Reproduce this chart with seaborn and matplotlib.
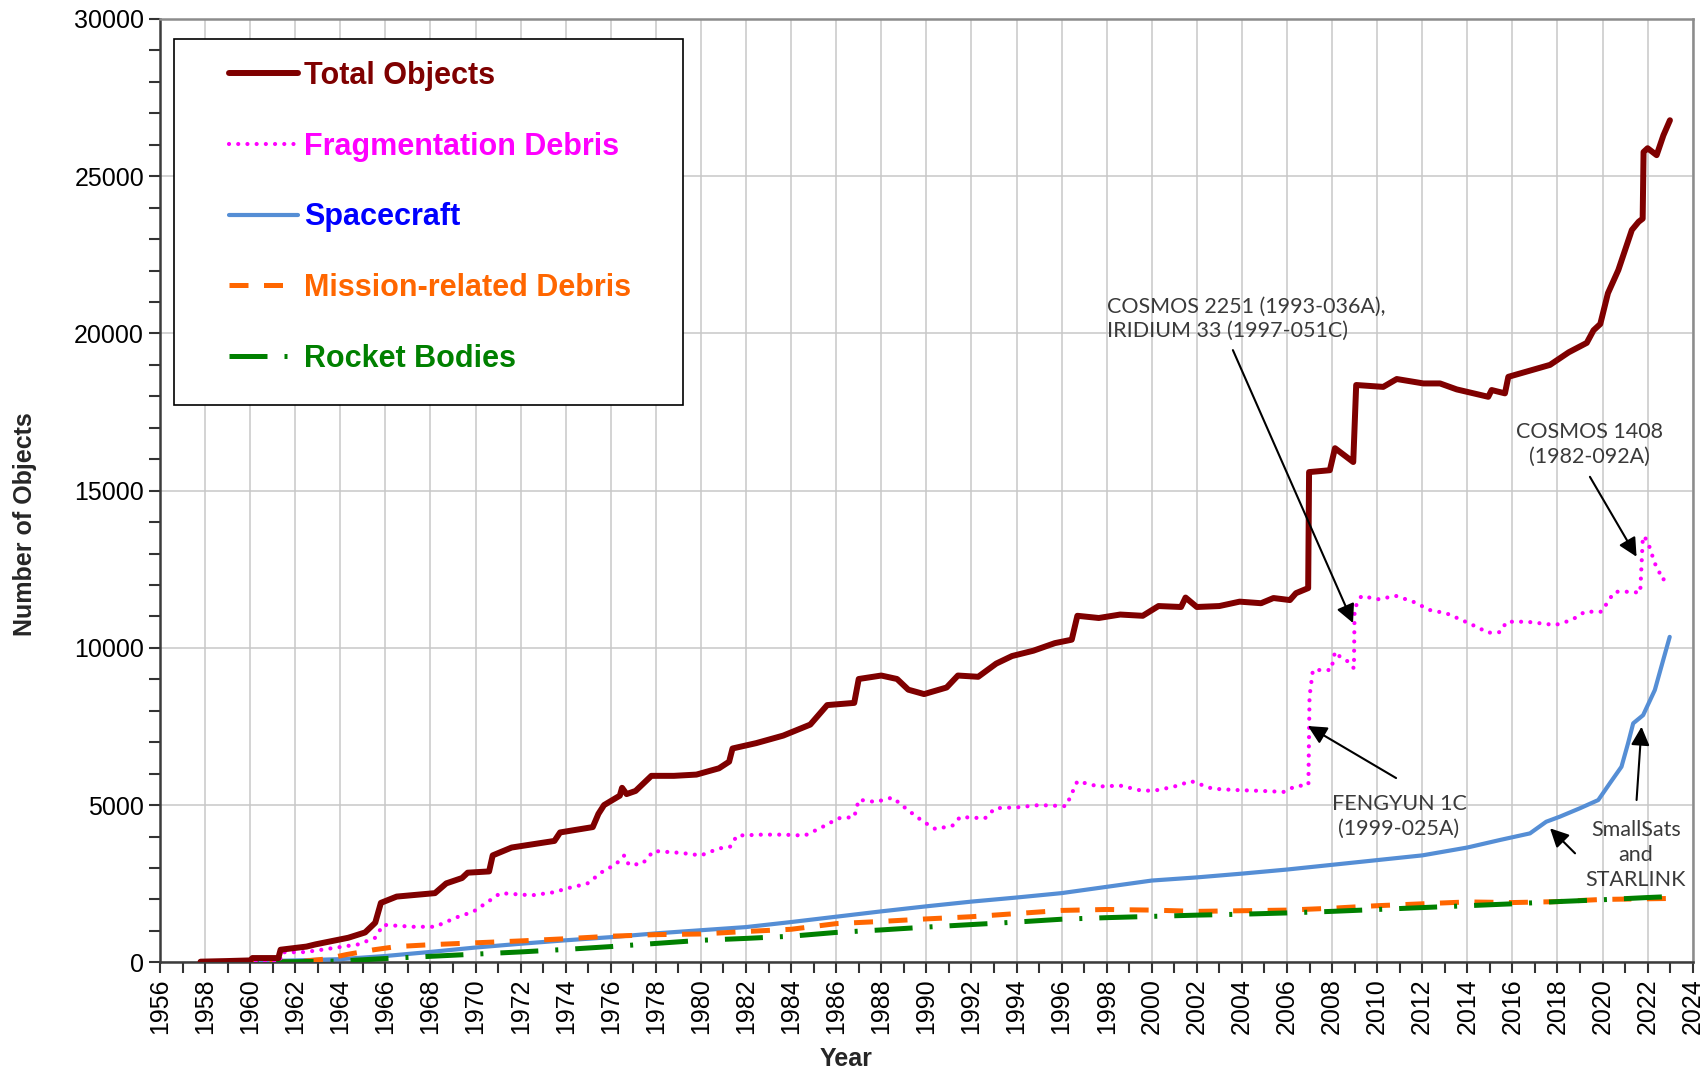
import matplotlib
matplotlib.use('Agg')
import matplotlib.pyplot as plt
import matplotlib.patches as mpatches
from matplotlib.ticker import MultipleLocator
import seaborn as sns

# ─────────────────────────────────────────────────────────────────────────────
# DATA
# ─────────────────────────────────────────────────────────────────────────────
total_years = [1957.8, 1959.0, 1960.0, 1960.1, 1961.25, 1961.35, 1962.5, 1962.9, 1964.35, 1965.1,
               1965.55, 1965.8, 1966.5, 1968.2, 1968.7, 1969.4, 1969.65, 1970.6, 1970.76, 1971.6,
               1972.5, 1973.5, 1973.75, 1975.2, 1975.45, 1975.7, 1976.4, 1976.5, 1976.7, 1977.1,
               1977.8, 1978.8, 1979.8, 1980.8, 1981.25, 1981.4, 1982.45, 1983.65, 1984.85, 1985.6,
               1986.8, 1987.0, 1988.0, 1988.7, 1989.2, 1989.9, 1990.9, 1991.4, 1992.3, 1993.1,
               1993.8, 1994.75, 1995.7, 1996.45, 1996.7, 1997.65, 1998.6, 1999.6, 2000.3, 2001.3,
               2001.5, 2002.0, 2003.0, 2003.9, 2004.85, 2005.4, 2006.13, 2006.4, 2006.94, 2006.98,
               2007.9, 2008.13, 2008.94, 2009.07, 2010.27, 2010.87, 2012.05, 2012.79, 2013.53, 2014.93,
               2015.08, 2015.67, 2015.82, 2016.6, 2017.67, 2018.5, 2019.3, 2019.6, 2019.9, 2020.24,
               2020.7, 2021.3, 2021.6, 2021.78, 2021.82, 2022.0, 2022.4, 2022.7, 2022.99]
total_vals = [20, 40, 60, 135, 135, 400, 500, 570, 780, 950,
              1260, 1890, 2090, 2200, 2510, 2680, 2850, 2890, 3400, 3650,
              3750, 3860, 4130, 4300, 4720, 5000, 5300, 5550, 5350, 5450,
              5930, 5930, 5970, 6170, 6380, 6800, 6970, 7210, 7560, 8180,
              8250, 9010, 9120, 9010, 8670, 8530, 8740, 9120, 9080, 9500,
              9740, 9910, 10150, 10260, 11020, 10950, 11060, 11020, 11330, 11300,
              11600, 11300, 11330, 11470, 11420, 11585, 11520, 11740, 11900, 15590,
              15650, 16350, 15910, 18360, 18300, 18550, 18410, 18410, 18220, 17985,
              18200, 18094, 18620, 18780, 19000, 19400, 19700, 20100, 20300, 21280,
              22015, 23290, 23550, 23650, 25770, 25890, 25670, 26300, 26780]

frag_years = [1957.8, 1961.3, 1961.4, 1962.3, 1962.9, 1964.8, 1965.55, 1965.9, 1967.25, 1968.2,
              1969.2, 1969.9, 1970.6, 1971.1, 1972.5, 1973.5, 1974.0, 1974.95, 1975.7, 1976.2,
              1976.6, 1976.8, 1977.4, 1977.9, 1979.1, 1980.0, 1980.8, 1981.3, 1981.6, 1982.7,
              1983.65, 1984.6, 1985.3, 1986.1, 1986.8, 1987.0, 1987.75, 1988.5, 1989.2, 1989.85,
              1990.4, 1991.15, 1991.5, 1992.6, 1993.05, 1994.05, 1995.0, 1996.2, 1996.7, 1997.65,
              1998.6, 1999.6, 2000.3, 2001.0, 2001.75, 2002.7, 2003.7, 2004.9, 2005.85, 2006.35,
              2006.95, 2007.0, 2007.15, 2007.96, 2008.13, 2008.35, 2008.72, 2008.97, 2009.0, 2009.3,
              2010.1, 2010.8, 2011.6, 2012.34, 2013.08, 2013.82, 2014.56, 2014.88, 2015.45, 2015.75,
              2016.64, 2017.9, 2018.63, 2019.22, 2019.96, 2020.33, 2020.55, 2021.22, 2021.67, 2021.79,
              2021.85, 2022.03, 2022.32, 2022.69, 2022.9]
frag_vals = [0, 0, 320, 320, 370, 570, 780, 1190, 1130, 1130,
             1440, 1610, 1950, 2200, 2130, 2230, 2340, 2500, 2920, 3100,
             3400, 3100, 3130, 3540, 3480, 3400, 3620, 3680, 4030, 4060,
             4060, 4030, 4270, 4580, 4620, 5170, 5100, 5240, 4830, 4480,
             4240, 4340, 4620, 4580, 4900, 4930, 5000, 4965, 5760, 5590,
             5620, 5450, 5480, 5590, 5760, 5520, 5480, 5450, 5420, 5590,
             5650, 8450, 9295, 9295, 9877, 9720, 9560, 9349, 11257, 11648,
             11542, 11660, 11467, 11203, 11097, 10864, 10620, 10482, 10500, 10831,
             10831, 10726, 10885, 11150, 11150, 11575, 11785, 11785, 11753, 13534,
             13550, 13324, 12688, 12157, 12423]

sc_years = [1957.8, 1960, 1962, 1964, 1966, 1968, 1970, 1972, 1974, 1976,
            1978, 1980, 1982, 1984, 1986, 1988, 1990, 1992, 1994, 1996,
            1998, 2000, 2002, 2004, 2006, 2008, 2010, 2012, 2014, 2015.45,
            2016.78, 2017.5, 2018.1, 2019.0, 2019.81, 2020.33, 2020.84, 2021.13, 2021.36, 2021.8,
            2022.32, 2022.69, 2022.98]
sc_vals = [0, 30, 60, 100, 200, 330, 470, 590, 700, 800,
           920, 1020, 1120, 1280, 1450, 1620, 1780, 1930, 2060, 2200,
           2400, 2600, 2700, 2820, 2950, 3100, 3250, 3400, 3650, 3890,
           4100, 4470, 4630, 4900, 5160, 5700, 6220, 6960, 7600, 7860,
           8660, 9610, 10350]

mission_years = [1957.8, 1962.0, 1963.3, 1964.3, 1965.5, 1966.5, 1968, 1970, 1972, 1974,
                 1976, 1978, 1980, 1982, 1984, 1986, 1988, 1990, 1992, 1994,
                 1996, 1998, 2000, 2002, 2004, 2006, 2008, 2010, 2012, 2014,
                 2016, 2018, 2020, 2022, 2023]
mission_vals = [0, 10, 100, 250, 400, 500, 560, 620, 680, 750,
                830, 880, 900, 980, 1050, 1230, 1300, 1380, 1450, 1550,
                1650, 1680, 1660, 1620, 1640, 1660, 1720, 1800, 1860, 1920,
                1900, 1930, 2000, 2020, 2030]

rocket_years = [1957.8, 1960, 1962, 1964, 1965, 1966, 1968, 1970, 1972, 1974,
                1976, 1978, 1980, 1982, 1984, 1986, 1988, 1990, 1992, 1994,
                1996, 1998, 2000, 2002, 2004, 2006, 2008, 2010, 2012, 2014,
                2016, 2018, 2020, 2022, 2023]
rocket_vals = [0, 10, 20, 40, 80, 120, 190, 260, 330, 410,
               500, 600, 700, 760, 830, 950, 1030, 1120, 1200, 1280,
               1370, 1420, 1460, 1500, 1530, 1570, 1620, 1680, 1740, 1800,
               1860, 1930, 1990, 2060, 2090]

LABELS = ['Total Objects', 'Fragmentation Debris', 'Spacecraft',
          'Mission-related Debris', 'Rocket Bodies']
LABEL_COLORS = ['#7f0000', '#ff00ff', '#0000ff', '#ff6600', '#008000']

# ─────────────────────────────────────────────────────────────────────────────
# PLOT
# ─────────────────────────────────────────────────────────────────────────────
sns.set_theme(style='white')
plt.rcParams['font.family'] = ['Liberation Sans', 'DejaVu Sans']

fig = plt.figure(figsize=(17.06, 10.73), dpi=100)
ax = fig.add_axes([160 / 1706, 1 - 962.3 / 1073, 1532.7 / 1706, 943.3 / 1073])

ax.grid(True, which='major', color='#c8c8c8', lw=1.1)
ax.set_axisbelow(True)

sns.lineplot(x=sc_years, y=sc_vals, ax=ax, color='#558ed5', lw=3.0,
             solid_capstyle='round', zorder=3)
sns.lineplot(x=mission_years, y=mission_vals, ax=ax, color='#ff6600', lw=3.6,
             linestyle=(0, (3.8, 3.1)), zorder=3)
sns.lineplot(x=rocket_years, y=rocket_vals, ax=ax, color='#008000', lw=3.6,
             linestyle=(0, (7.6, 3.4, 0.6, 3.4)), zorder=3)
sns.lineplot(x=frag_years, y=frag_vals, ax=ax, color='#ff00ff', lw=3.0,
             linestyle=(0, (0.01, 2.2)), dash_capstyle='round', zorder=4, sort=False)
sns.lineplot(x=total_years, y=total_vals, ax=ax, color='#7f0000', lw=4.3,
             solid_capstyle='round', solid_joinstyle='round', zorder=4, sort=False)

ax.set_xlim(1956, 2024)
ax.set_ylim(0, 30000)
ax.xaxis.set_major_locator(MultipleLocator(2))
ax.xaxis.set_minor_locator(MultipleLocator(1))
ax.yaxis.set_major_locator(MultipleLocator(5000))
ax.yaxis.set_minor_locator(MultipleLocator(1000))
ax.tick_params(axis='both', which='both', direction='out', length=8, width=1.5,
               color='#333333', labelsize=18, labelcolor='black')
ax.tick_params(axis='both', which='both', bottom=True, left=True)
plt.setp(ax.get_xticklabels(), rotation=90)

for side in ['left', 'bottom']:
    ax.spines[side].set_color('#3c3c3c')
    ax.spines[side].set_linewidth(1.8)
for side in ['top', 'right']:
    ax.spines[side].set_color('#8c8c8c')
    ax.spines[side].set_linewidth(1.8)

ax.set_xlabel('Year', fontsize=18, fontweight='bold')
ax.set_ylabel('Number of Objects', fontsize=18, fontweight='bold')
ax.xaxis.set_label_coords(0.4476, -0.0898)
ax.yaxis.set_label_coords(-0.0800, 0.4647)

# Legend (handles built from plotted lines, frame drawn separately)
handle_map = {'#7f0000': 'Total Objects', '#ff00ff': 'Fragmentation Debris',
              '#558ed5': 'Spacecraft', '#ff6600': 'Mission-related Debris',
              '#008000': 'Rocket Bodies'}
handles = {}
for ln in ax.get_lines():
    c = matplotlib.colors.to_hex(ln.get_color())
    if c in handle_map:
        handles[handle_map[c]] = ln
leg = fig.legend([handles[l] for l in LABELS], LABELS, loc='upper left',
                 bbox_to_anchor=(229 / 1706, 1 - 61 / 1073), frameon=False,
                 borderpad=0, borderaxespad=0, handlelength=2.25, handletextpad=0.2,
                 labelspacing=1.33, prop={'family': 'Liberation Sans', 'weight': 'bold', 'size': 22})
leg.set_zorder(6)
for txt, col in zip(leg.get_texts(), LABEL_COLORS):
    txt.set_color(col)

frame = mpatches.Rectangle((174.5 / 1706, 1 - 404.7 / 1073), 508.2 / 1706, 365.4 / 1073,
                           transform=fig.transFigure, facecolor='white', edgecolor='black',
                           lw=1.2, zorder=5)
fig.patches.append(frame)

# Annotations
ann_font = dict(family=['Lato', 'DejaVu Sans'], size=15.5, color='#3a3a3a')
arrow = dict(arrowstyle='-|>', color='black', lw=1.5, mutation_scale=28,
             shrinkA=0, shrinkB=0)

ax.text(1998.03, 20463, 'COSMOS 2251 (1993-036A),\nIRIDIUM 33 (1997-051C)',
        ha='left', va='center', linespacing=1.3, zorder=6, **ann_font)
ax.annotate('', xy=(2008.93, 10790), xytext=(2003.6, 19470), arrowprops=arrow, zorder=6)

ax.text(2019.44, 16480, 'COSMOS 1408\n(1982-092A)', ha='center', va='center',
        linespacing=1.3, zorder=6, **ann_font)
ax.annotate('', xy=(2021.51, 12898), xytext=(2019.44, 15440), arrowprops=arrow, zorder=6)

ax.text(2010.97, 4630, 'FENGYUN 1C\n(1999-025A)', ha='center', va='center',
        linespacing=1.3, zorder=6, **ann_font)
ax.annotate('', xy=(2006.93, 7514), xytext=(2010.84, 5860), arrowprops=arrow, zorder=6)

ax.text(2021.48, 3412, 'SmallSats\nand\nSTARLINK', ha='center', va='center',
        linespacing=1.3, zorder=6, **ann_font)
ax.annotate('', xy=(2021.73, 7492), xytext=(2021.51, 5161), arrowprops=arrow, zorder=6)
ax.annotate('', xy=(2017.67, 4261), xytext=(2018.78, 3466), arrowprops=arrow, zorder=6)

fig.savefig('out.png', dpi=100, facecolor='white')
